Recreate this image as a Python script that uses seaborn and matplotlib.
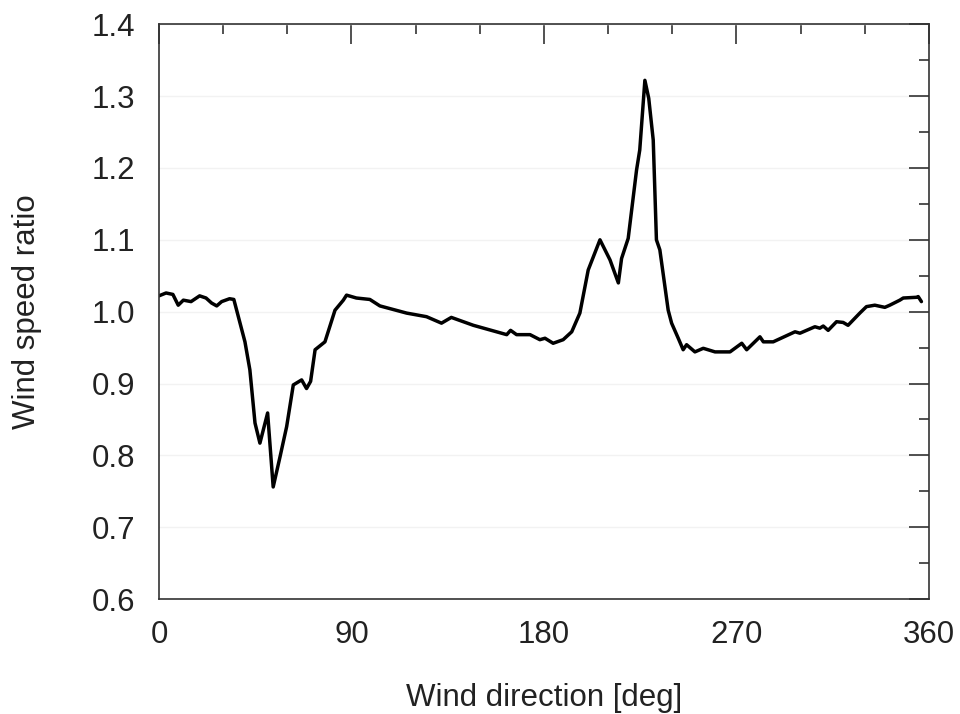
import numpy as np
import pandas as pd
import matplotlib
matplotlib.use("Agg")
import matplotlib.pyplot as plt
from matplotlib.ticker import MultipleLocator
import seaborn as sns

# wind direction [deg] and wind speed ratio
direction = [0, 3.3, 6.5, 9.0, 11.4, 15.0, 19.0, 22.0, 24.6, 27.0, 29.3, 33.0, 35.0,
             40.2, 42.5, 44.9, 47.2, 50.8, 53.4, 56.6, 59.7, 62.8, 66.7, 69.0, 70.9,
             73.0, 77.6, 82.3, 86.2, 87.7, 92.3, 98.6, 103.3, 115.8, 125.1, 132.1,
             136.7, 147.0, 162.6, 164.4, 167.2, 173.5, 178.1, 180.5, 184.3, 189.0,
             193.0, 196.8, 200.7, 206.2, 210.9, 214.8, 216.3, 219.4, 223.3, 224.8,
             227.2, 229.0, 231.1, 232.6, 234.2, 238.1, 239.7, 242.8, 245.1, 246.7,
             250.6, 254.5, 260.0, 267.0, 272.5, 274.8, 281.0, 282.6, 287.2, 297.4,
             299.7, 306.7, 309.0, 310.6, 312.9, 316.8, 319.9, 322.2, 327.7, 330.8,
             334.7, 339.4, 341.7, 346.4, 348.0, 354.2, 355.0, 356.5]
ratio = [1.022, 1.026, 1.024, 1.009, 1.016, 1.014, 1.022, 1.019, 1.012, 1.008, 1.014, 1.018, 1.017,
         0.958, 0.919, 0.845, 0.817, 0.859, 0.756, 0.798, 0.840, 0.898, 0.905, 0.893, 0.903,
         0.947, 0.958, 1.002, 1.016, 1.023, 1.019, 1.017, 1.008, 0.998, 0.993, 0.984,
         0.992, 0.981, 0.968, 0.974, 0.968, 0.968, 0.961, 0.963, 0.956, 0.961,
         0.972, 0.998, 1.058, 1.100, 1.072, 1.040, 1.074, 1.102, 1.197, 1.225,
         1.322, 1.297, 1.239, 1.100, 1.086, 1.002, 0.984, 0.963, 0.947, 0.954,
         0.944, 0.949, 0.944, 0.944, 0.956, 0.947, 0.965, 0.958, 0.958, 0.972,
         0.970, 0.979, 0.977, 0.980, 0.974, 0.986, 0.985, 0.981, 0.998, 1.007,
         1.009, 1.006, 1.009, 1.016, 1.019, 1.020, 1.021, 1.014]

df = pd.DataFrame({"direction": direction, "ratio": ratio})

sns.set_theme(style="white")
plt.rcParams["font.family"] = ["Liberation Sans", "DejaVu Sans"]

fig = plt.figure(figsize=(9.6, 7.14), dpi=100)
ax = fig.add_axes([0.1656, 0.161, 0.802, 0.805])

ax.grid(axis="y", which="major", color="#f2f2f2", lw=1.0)
sns.lineplot(data=df, x="direction", y="ratio", color="black", lw=2.5, ax=ax)

ax.set_xlim(0, 360)
ax.set_ylim(0.6, 1.4)
ax.xaxis.set_major_locator(MultipleLocator(90))
ax.xaxis.set_minor_locator(MultipleLocator(30))
ax.yaxis.set_major_locator(MultipleLocator(0.1))
ax.yaxis.set_minor_locator(MultipleLocator(0.05))
ax.yaxis.set_major_formatter(plt.FuncFormatter(lambda v, p: f"{v:.1f}"))

ax.tick_params(which="both", direction="in", top=True, right=True, color="#333333", width=1.2)
ax.tick_params(which="major", length=14.5, labelsize=22.5, colors="#333333", labelcolor="#222222")
ax.tick_params(which="minor", length=7.5)
ax.tick_params(axis="x", which="major", pad=15)
ax.tick_params(axis="y", which="major", pad=17)

for s in ax.spines.values():
    s.set_color("#333333")
    s.set_linewidth(1.2)

ax.set_xlabel("Wind direction [deg]", fontsize=22.5, color="#222222")
ax.set_ylabel("Wind speed ratio", fontsize=22.5, color="#222222")
ax.xaxis.set_label_coords(0.5, -0.146)
ax.yaxis.set_label_coords(-0.152, 0.5)

fig.savefig("out.png", dpi=100)
